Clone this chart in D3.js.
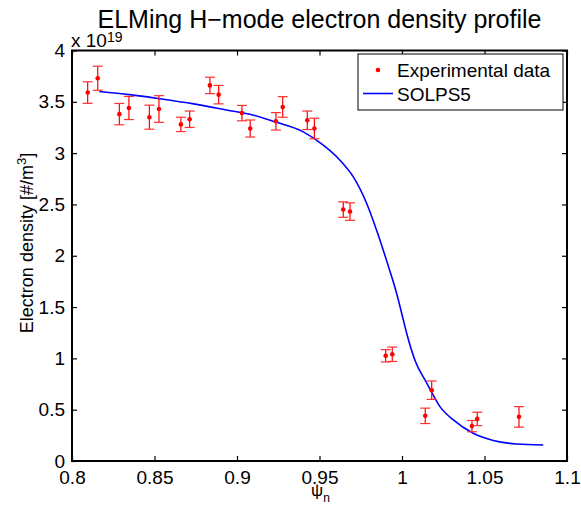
<!DOCTYPE html>
<html>
<head>
<meta charset="utf-8">
<script src="https://cdn.jsdelivr.net/npm/d3@7"></script>
<style>
  body { margin: 0; background: #fff; }
  text { font-family: "Liberation Sans", Arial, Helvetica, sans-serif; fill: #000; }
</style>
</head>
<body>
<div id="chart"></div>
<script>
// measured points (psi_n, density in 1e19 m^-3, error half-width)
var expPsi = [0.8095, 0.8156, 0.8287, 0.8345, 0.8469, 0.8527, 0.866, 0.8713, 0.8836, 0.8889,
              0.903, 0.908, 0.9236, 0.9277, 0.9426, 0.9469, 0.9644, 0.9685, 0.9901, 0.9941,
              1.0141, 1.018, 1.0424, 1.0456, 1.0709];
var expNe  = [3.59, 3.73, 3.38, 3.44, 3.35, 3.43, 3.28, 3.33, 3.66, 3.57,
              3.39, 3.24, 3.31, 3.45, 3.32, 3.24, 2.45, 2.43, 1.025, 1.04,
              0.44, 0.69, 0.34, 0.41, 0.43];
var expErr = [0.105, 0.117, 0.104, 0.113, 0.117, 0.13, 0.07, 0.08, 0.08, 0.09,
              0.075, 0.083, 0.085, 0.1, 0.09, 0.1, 0.075, 0.085, 0.06, 0.07,
              0.075, 0.09, 0.055, 0.065, 0.1];

// SOLPS5 simulated profile
var solpsPsi = [0.8165, 0.835, 0.8533, 0.8737, 0.8937, 0.91, 0.923, 0.9402, 0.9523, 0.9624,
                0.9705, 0.9786, 0.9846, 0.9917, 0.9968, 0.9998, 1.0029, 1.0079, 1.015, 1.023,
                1.0311, 1.0432, 1.0553, 1.0695, 1.0856];
var solpsNe  = [3.60, 3.57, 3.53, 3.48, 3.42, 3.37, 3.305, 3.207, 3.077, 2.931,
                2.768, 2.509, 2.249, 1.90, 1.63, 1.44, 1.24, 0.98, 0.76, 0.53,
                0.40, 0.27, 0.20, 0.166, 0.156];

var xTicks = [0.8, 0.85, 0.9, 0.95, 1, 1.05, 1.1];
var yTicks = [0, 0.5, 1, 1.5, 2, 2.5, 3, 3.5, 4];

var width = 581, height = 509;
var mLeft = 72, mRight = 567, mTop = 50.5, mBottom = 461;

var svg = d3.select("#chart").append("svg")
    .attr("width", width)
    .attr("height", height);

var x = d3.scaleLinear().domain([0.8, 1.1]).range([mLeft, mRight]);
var y = d3.scaleLinear().domain([0, 4]).range([mBottom, mTop]);

// axes with inward ticks, like matlab
svg.append("g")
    .attr("transform", "translate(0," + mBottom + ")")
    .call(d3.axisBottom(x).tickValues(xTicks).tickSizeInner(-5).tickSizeOuter(0).tickPadding(10)
        .tickFormat(function(d) { return String(+d.toFixed(2)); }));
svg.append("g")
    .attr("transform", "translate(0," + mTop + ")")
    .call(d3.axisTop(x).tickValues(xTicks).tickSizeInner(-5).tickSizeOuter(0).tickFormat(""));
svg.append("g")
    .attr("transform", "translate(" + mLeft + ",0)")
    .call(d3.axisLeft(y).tickValues(yTicks).tickSizeInner(-5).tickSizeOuter(0).tickPadding(7)
        .tickFormat(function(d) { return String(d); }));
svg.append("g")
    .attr("transform", "translate(" + mRight + ",0)")
    .call(d3.axisRight(y).tickValues(yTicks).tickSizeInner(-5).tickSizeOuter(0).tickFormat(""));

svg.selectAll(".domain").remove();
svg.selectAll(".tick line").attr("stroke", "#000").attr("stroke-width", 1.2);
svg.selectAll(".tick text")
    .style("font-family", "'Liberation Sans', Arial, sans-serif")
    .style("font-size", "19px");

// box
svg.append("rect")
    .attr("x", mLeft).attr("y", mTop)
    .attr("width", mRight - mLeft).attr("height", mBottom - mTop)
    .attr("fill", "none").attr("stroke", "#000").attr("stroke-width", 2);

// SOLPS line
var line = d3.line()
    .x(function(d, i) { return x(solpsPsi[i]); })
    .y(function(d) { return y(d); })
    .curve(d3.curveMonotoneX);
svg.append("path")
    .attr("d", line(solpsNe))
    .attr("fill", "none")
    .attr("stroke", "#0000ff")
    .attr("stroke-width", 1.6);

// error bars
var pts = svg.append("g").selectAll("g")
    .data(expNe)
    .enter().append("g");
pts.append("line")
    .attr("x1", function(d, i) { return x(expPsi[i]); })
    .attr("x2", function(d, i) { return x(expPsi[i]); })
    .attr("y1", function(d, i) { return y(d - expErr[i]); })
    .attr("y2", function(d, i) { return y(d + expErr[i]); })
    .attr("stroke", "#ff0000").attr("stroke-width", 1.2);
[-1, 1].forEach(function(s) {
  pts.append("line")
      .attr("x1", function(d, i) { return x(expPsi[i]) - 5; })
      .attr("x2", function(d, i) { return x(expPsi[i]) + 5; })
      .attr("y1", function(d, i) { return y(d + s * expErr[i]); })
      .attr("y2", function(d, i) { return y(d + s * expErr[i]); })
      .attr("stroke", "#ff3030").attr("stroke-width", 1.2);
});
pts.append("circle")
    .attr("cx", function(d, i) { return x(expPsi[i]); })
    .attr("cy", function(d) { return y(d); })
    .attr("r", 2.3)
    .attr("fill", "#ff0000");

// legend
var lg = svg.append("g");
lg.append("rect")
    .attr("x", 358).attr("y", 54).attr("width", 205).attr("height", 56)
    .attr("fill", "#fff").attr("stroke", "#000").attr("stroke-width", 1);
lg.append("circle").attr("cx", 378).attr("cy", 70).attr("r", 2.3).attr("fill", "#ff0000");
lg.append("text").attr("x", 397).attr("y", 77).style("font-size", "19px").text("Experimental data");
lg.append("line").attr("x1", 363).attr("x2", 393).attr("y1", 93.5).attr("y2", 93.5)
    .attr("stroke", "#0000ff").attr("stroke-width", 1.6);
lg.append("text").attr("x", 397).attr("y", 101).style("font-size", "19px").text("SOLPS5");

// exponent label
var ex = svg.append("text").attr("x", 71).attr("y", 47).style("font-size", "19px");
ex.append("tspan").text("x 10");
ex.append("tspan").attr("dy", -5).style("font-size", "14px").text("19");

// title
svg.append("text")
    .attr("x", (mLeft + mRight) / 2).attr("y", 28)
    .attr("text-anchor", "middle")
    .style("font-size", "25px")
    .text("ELMing H\u2212mode electron density profile");

// axis labels
var yl = svg.append("text")
    .attr("transform", "translate(33,243) rotate(-90)")
    .attr("text-anchor", "middle")
    .style("font-size", "18px");
yl.append("tspan").text("Electron density [#/m");
yl.append("tspan").attr("dy", -7).style("font-size", "13px").text("3");
yl.append("tspan").attr("dy", 7).text("]");

var xl = svg.append("text")
    .attr("x", 311).attr("y", 496)
    .style("font-size", "17px");
xl.append("tspan").text("\u03c8");
xl.append("tspan").attr("dy", 6).style("font-size", "12px").text("n");
</script>
</body>
</html>
